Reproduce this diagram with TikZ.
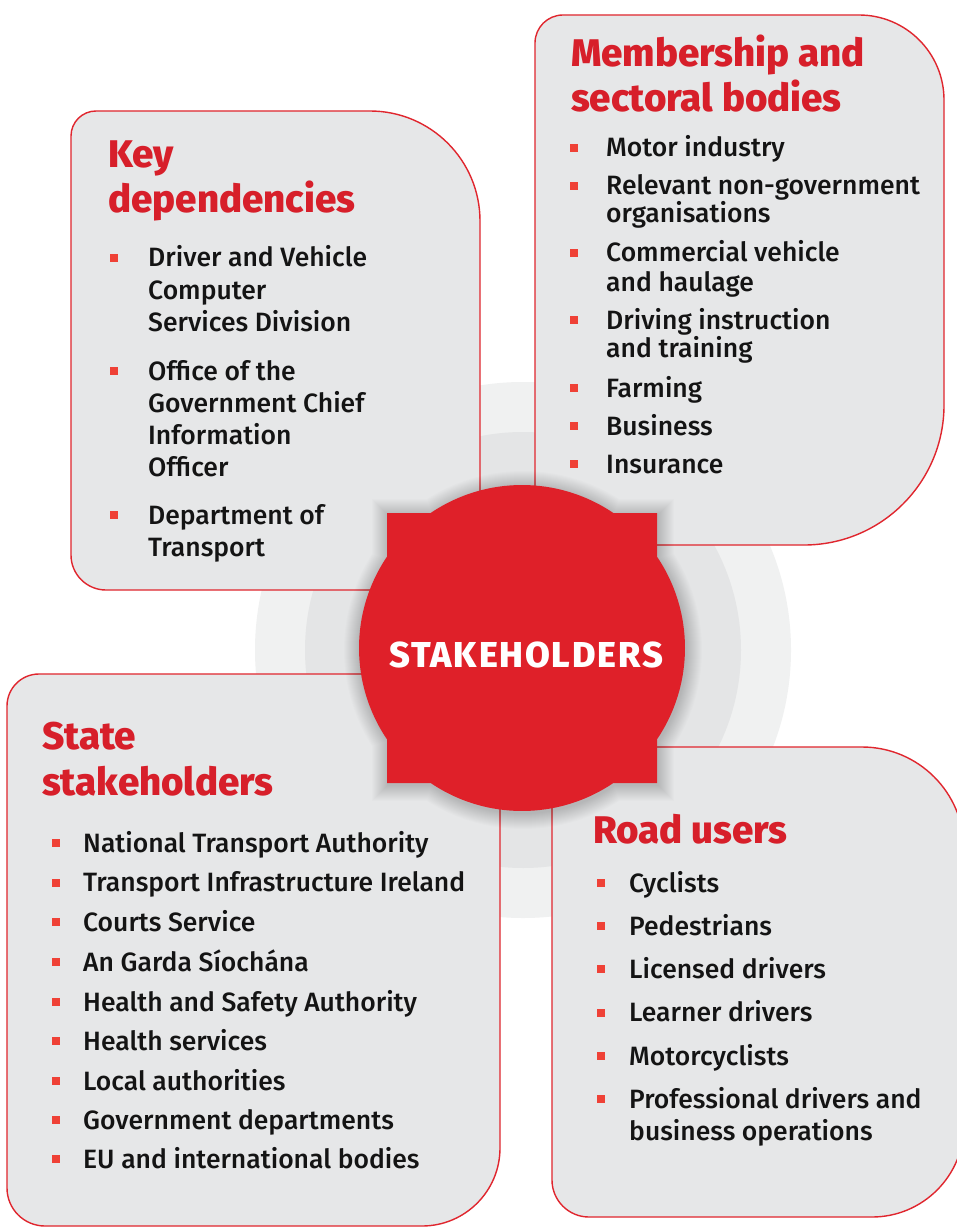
\documentclass[tikz,border=0pt]{standalone}
\usepackage{fontspec}
\setmainfont{Fira Sans}
\newfontfamily\bodyfont{Fira Sans Medium}
\newfontfamily\headfont{Fira Sans ExtraBold}
\newfontfamily\hubfont{Fira Sans ExtraBold}[LetterSpace=5]

\definecolor{boxgray}{HTML}{E6E7E8}
\definecolor{boxred}{HTML}{E0262E}
\definecolor{headred}{HTML}{D71F2A}
\definecolor{circred}{HTML}{DF2029}
\definecolor{bulletred}{HTML}{EF4136}
\definecolor{ringlight}{HTML}{F0F1F1}
\definecolor{ringdark}{HTML}{E4E5E6}
\definecolor{inkblack}{HTML}{141414}

% Rounded panel: name, x1, y1, x2, y2, r(top left), r(top right), r(bottom right), r(bottom left)
\newcommand\roundpanel[9]{%
  \path[panel] (#2+#6,#3) coordinate (#1-nw)
    -- (#4-#7,#3) arc[start angle=-90, end angle=0, radius=#7]
    -- (#4,#5-#8) arc[start angle=0, end angle=90, radius=#8]
    -- (#2+#9,#5) arc[start angle=90, end angle=180, radius=#9]
    -- (#2,#3+#6) arc[start angle=180, end angle=270, radius=#6]
    -- cycle;}

% Badge outline (circle of radius #1 merged with a square of half side #2), filled with #3
\newcommand\badge[3]{%
  \pgfmathsetmacro\bR{#1}%
  \pgfmathsetmacro\bH{#2}%
  \pgfmathsetmacro\bA{atan2(sqrt((\bR/10)^2-(\bH/10)^2),\bH/10)}%
  \fill[#3] (-\bA:\bR) arc[start angle=-\bA, end angle=\bA, radius=\bR]
    -- (\bH,\bH) -- (90-\bA:\bR) arc[start angle=90-\bA, end angle=90+\bA, radius=\bR]
    -- (-\bH,\bH) -- (180-\bA:\bR) arc[start angle=180-\bA, end angle=180+\bA, radius=\bR]
    -- (-\bH,-\bH) -- (270-\bA:\bR) arc[start angle=270-\bA, end angle=270+\bA, radius=\bR]
    -- (\bH,-\bH) -- cycle;}

% Bulleted line: name, bullet x, text x, baseline y, text
\newcommand\bulletline[5]{%
  \node[bulletsq] (#1-b) at (#2,#4-9) {};
  \node[itemtext] (#1) at (#3,#4) {#5};}

\begin{document}
\begin{tikzpicture}[x=1pt, y=-1pt,
  panel/.style={fill=boxgray, draw=boxred, line width=1.4pt},
  headtext/.style={anchor=base west, inner sep=0pt, text=headred,
    font=\headfont\fontsize{38.5}{44}\selectfont},
  itemtext/.style={anchor=base west, inner sep=0pt, text=inkblack,
    font=\bodyfont\fontsize{26.5}{30}\selectfont},
  bulletsq/.style={fill=bulletred, draw=none, minimum size=8pt, inner sep=0pt}]

\useasboundingbox (0,0) rectangle (957,1230);
\fill[white] (0,0) rectangle (957,1230);

% soft rings behind the panels
\fill[ringlight] (523,650) circle[radius=268];
\fill[ringdark] (523,650) circle[radius=218];

% four panels
\roundpanel{keyp}{71}{111}{480}{590}{25}{110}{30}{35}
\roundpanel{memp}{535}{15}{944}{545}{28}{85}{140}{20}
\roundpanel{statep}{7}{674}{500}{1226}{32}{20}{78}{38}
\roundpanel{roadp}{552}{747}{964}{1217}{20}{102}{92}{37}

% central badge with a soft shadow built from stacked translucent layers
\begin{scope}[shift={(523,650)}]
  \foreach \g in {1,...,16}{\badge{163+\g}{135+\g}{black, opacity=0.012}}
\end{scope}
\begin{scope}[shift={(522,648)}]
  \badge{163}{135}{circred}
\end{scope}
\node[anchor=base, inner sep=0pt, text=white,
  font=\hubfont\fontsize{36}{36}\selectfont] (hub) at (526,667) {STAKEHOLDERS};

% Key dependencies
\node[headtext] (keyh1) at (108,168) {Key};
\node[headtext] (keyh2) at (108,213) {dependencies};
\bulletline{k1}{114}{148}{267}{Driver and Vehicle}
\node[itemtext] (k1b) at (148,299) {Computer};
\node[itemtext] (k1c) at (148,331) {Services Division};
\bulletline{k2}{114}{148}{380}{Office of the}
\node[itemtext] (k2b) at (148,412) {Government Chief};
\node[itemtext] (k2c) at (148,444) {Information};
\node[itemtext] (k2d) at (148,476) {Officer};
\bulletline{k3}{114}{148}{524}{Department of}
\node[itemtext] (k3b) at (148,556) {Transport};

% Membership and sectoral bodies
\node[headtext] (memh1) at (571,67) {Membership and};
\node[headtext] (memh2) at (571,112) {sectoral bodies};
\bulletline{m1}{574}{606}{157}{Motor industry}
\bulletline{m2}{574}{606}{195}{Relevant non-government}
\node[itemtext] (m2b) at (606,223) {organisations};
\bulletline{m3}{574}{606}{262}{Commercial vehicle}
\node[itemtext] (m3b) at (606,291) {and haulage};
\bulletline{m4}{574}{606}{329}{Driving instruction}
\node[itemtext] (m4b) at (606,357) {and training};
\bulletline{m5}{574}{606}{397}{Farming}
\bulletline{m6}{574}{606}{435}{Business}
\bulletline{m7}{574}{606}{473}{Insurance}

% State stakeholders
\node[headtext] (sth1) at (42,749) {State};
\node[headtext] (sth2) at (42,795) {stakeholders};
\bulletline{s1}{55.5}{83}{852}{National Transport Authority}
\bulletline{s2}{55.5}{83}{891.5}{Transport Infrastructure Ireland}
\bulletline{s3}{55.5}{83}{931}{Courts Service}
\bulletline{s4}{55.5}{83}{971}{An Garda Síochána}
\bulletline{s5}{55.5}{83}{1011}{Health and Safety Authority}
\bulletline{s6}{55.5}{83}{1050}{Health services}
\bulletline{s7}{55.5}{83}{1090}{Local authorities}
\bulletline{s8}{55.5}{83}{1129}{Government departments}
\bulletline{s9}{55.5}{83}{1168}{EU and international bodies}

% Road users
\node[headtext] (rdh1) at (593,843) {Road users};
\bulletline{r1}{601}{629}{892}{Cyclists}
\bulletline{r2}{601}{629}{935}{Pedestrians}
\bulletline{r3}{601}{629}{978}{Licensed drivers}
\bulletline{r4}{601}{629}{1021.5}{Learner drivers}
\bulletline{r5}{601}{629}{1065}{Motorcyclists}
\bulletline{r6}{601}{629}{1108}{Professional drivers and}
\node[itemtext] (r6b) at (629,1140) {business operations};
\end{tikzpicture}
\end{document}
